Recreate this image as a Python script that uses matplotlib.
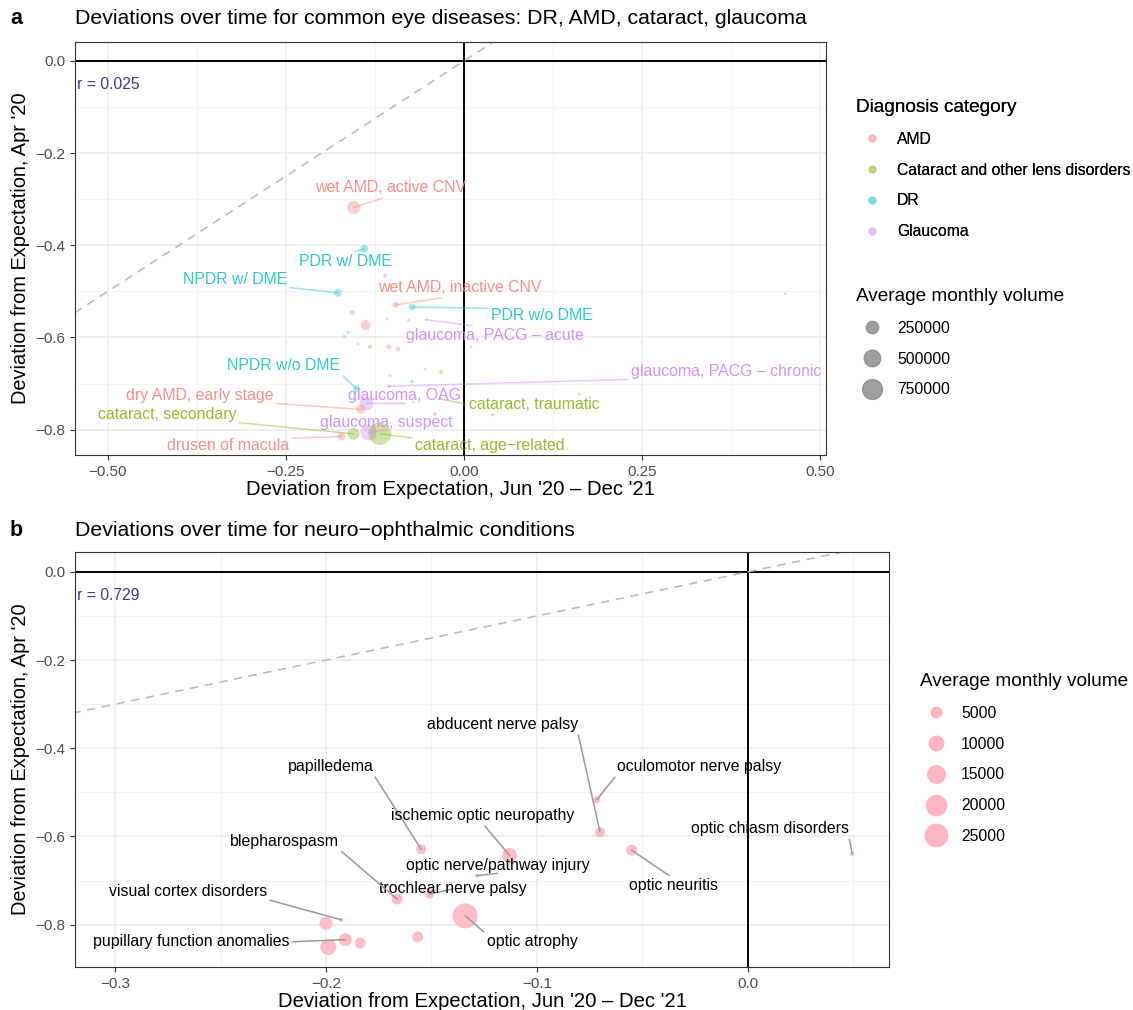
import matplotlib
matplotlib.use("Agg")
import matplotlib.pyplot as plt
from matplotlib.lines import Line2D
from matplotlib.text import Text
import numpy as np

plt.rcParams['font.family'] = ['Liberation Sans', 'DejaVu Sans']

# ---------------- panel a data ----------------
names_a = ["wet AMD, active CNV", "PDR w/ DME", "NPDR w/ DME", "", "wet AMD, inactive CNV",
           "PDR w/o DME", "", "", "", "glaucoma, PACG \u2013 acute", "", "", "", "", "",
           "", "", "", "", "", "", "", "glaucoma, PACG \u2013 chronic", "NPDR w/o DME",
           "glaucoma, OAG", "dry AMD, early stage", "", "", "", "", "", "cataract, traumatic",
           "drusen of macula", "cataract, secondary", "glaucoma, suspect", "cataract, age\u2212related"]
cat_a = ["AMD", "DR", "DR", "AMD", "AMD",
         "DR", "Glaucoma", "Glaucoma", "Glaucoma", "Glaucoma", "AMD", "DR", "Glaucoma", "Glaucoma", "Cataract",
         "AMD", "AMD", "Glaucoma", "Glaucoma", "Glaucoma", "Cataract", "DR", "Glaucoma", "DR",
         "Glaucoma", "AMD", "AMD", "Cataract", "DR", "DR", "Glaucoma", "Cataract",
         "AMD", "Cataract", "Glaucoma", "Cataract"]
x_a = [-0.155, -0.140, -0.177, -0.111, -0.096,
       -0.073, -0.157, -0.108, -0.078, -0.053, -0.138, -0.163, -0.168, -0.149, -0.132,
       -0.106, -0.093, 0.010, -0.104, -0.055, -0.032, -0.073, -0.106, -0.151,
       -0.137, -0.145, -0.041, 0.162, 0.040, 0.451, -0.071, -0.034,
       -0.172, -0.155, -0.134, -0.118]
y_a = [-0.318, -0.408, -0.503, -0.466, -0.529,
       -0.534, -0.546, -0.560, -0.563, -0.562, -0.573, -0.589, -0.598, -0.614, -0.620,
       -0.620, -0.625, -0.620, -0.683, -0.669, -0.675, -0.696, -0.706, -0.711,
       -0.743, -0.756, -0.766, -0.723, -0.768, -0.505, -0.740, -0.733,
       -0.815, -0.809, -0.806, -0.809]
vol_a = [262000, 73000, 73000, 6000, 30000,
         49000, 16000, 2000, 2000, 1000, 134000, 2000, 4000, 2000, 4000,
         16000, 16000, 1000, 2000, 1000, 6000, 4000, 4000, 49000,
         314000, 101000, 6000, 1000, 2000, 1000, 1000, 1000,
         73000, 215000, 433000, 950000]

# label anchor (data coords) for the repelled labels
lab_a = {
    "wet AMD, active CNV": (-0.1025, -0.2755),
    "PDR w/ DME": (-0.167, -0.436),
    "NPDR w/ DME": (-0.3216, -0.475),
    "wet AMD, inactive CNV": (-0.0056, -0.492),
    "PDR w/o DME": (0.1096, -0.553),
    "glaucoma, PACG \u2013 acute": (0.0435, -0.5965),
    "NPDR w/o DME": (-0.2528, -0.6616),
    "glaucoma, PACG \u2013 chronic": (0.368, -0.6746),
    "dry AMD, early stage": (-0.3708, -0.7267),
    "glaucoma, OAG": (-0.0829, -0.7267),
    "cataract, secondary": (-0.417, -0.768),
    "cataract, traumatic": (0.0983, -0.746),
    "glaucoma, suspect": (-0.1096, -0.785),
    "drusen of macula": (-0.331, -0.835),
    "cataract, age\u2212related": (0.0365, -0.835),
}

cat_order = ["AMD", "Cataract", "DR", "Glaucoma"]
cat_labels = ["AMD", "Cataract and other lens disorders", "DR", "Glaucoma"]
cat_colors = {"AMD": "#F8766D", "Cataract": "#7CAE00", "DR": "#00BFC4", "Glaucoma": "#C77CFF"}

# ---------------- panel b data ----------------
names_b = ["papilledema", "optic nerve/pathway injury", "trochlear nerve palsy", "blepharospasm",
           "visual cortex disorders", "", "pupillary function anomalies", "", "", "",
           "optic atrophy", "ischemic optic neuropathy", "abducent nerve palsy",
           "oculomotor nerve palsy", "optic neuritis", "optic chiasm disorders"]
x_b = [-0.1549, -0.1283, -0.1509, -0.1663, -0.1928, -0.2000, -0.1909, -0.1838, -0.1989, -0.1565,
       -0.1340, -0.1130, -0.0701, -0.0717, -0.0551, 0.0495]
y_b = [-0.629, -0.689, -0.731, -0.742, -0.789, -0.797, -0.834, -0.842, -0.851, -0.828,
       -0.780, -0.643, -0.590, -0.517, -0.631, -0.640]
vol_b = [3300, 600, 2500, 4100, 600, 6200, 6200, 4100, 10100, 4100,
         28000, 8700, 3300, 1400, 4100, 600]

lab_b = {
    "abducent nerve palsy": (-0.1165, -0.347),
    "oculomotor nerve palsy": (-0.0230, -0.442),
    "papilledema": (-0.1979, -0.442),
    "ischemic optic neuropathy": (-0.1258, -0.553),
    "optic chiasm disorders": (0.0104, -0.583),
    "blepharospasm": (-0.2197, -0.612),
    "optic nerve/pathway injury": (-0.1187, -0.6667),
    "optic neuritis": (-0.0354, -0.712),
    "trochlear nerve palsy": (-0.140, -0.719),
    "visual cortex disorders": (-0.2655, -0.7256),
    "pupillary function anomalies": (-0.2639, -0.839),
    "optic atrophy": (-0.1023, -0.839),
}

r_a = "r = 0.025"
r_b = "r = 0.729"
size_breaks_a = [250000, 500000, 750000]
size_breaks_b = [5000, 10000, 15000, 20000, 25000]

DPI = 100
PX2PT = 72 / DPI
LAB_FS = 11.4


def size_px(v, vmin, vmax, dmin, dmax):
    # ggplot style area scale: diameter grows with sqrt of rescaled value
    r = np.clip((np.asarray(v, float) - vmin) / (vmax - vmin), 0, 1)
    return dmin + (dmax - dmin) * np.sqrt(r)


def diam_a(v):
    return size_px(v, 1000, 950000, 2.5, 22.5)


def diam_b(v):
    return size_px(v, 500, 28000, 3.0, 25.0)


def style_axes(ax, xmajor, xminor, ymajor, yminor):
    ax.set_xticks(xmajor)
    ax.set_xticks(xminor, minor=True)
    ax.set_yticks(ymajor)
    ax.set_yticks(yminor, minor=True)
    ax.grid(True, which="major", color="#EBEBEB", lw=1.1, zorder=0)
    ax.grid(True, which="minor", color="#F2F2F2", lw=0.6, zorder=0)
    ax.set_axisbelow(True)
    for s in ax.spines.values():
        s.set_color("#333333")
        s.set_linewidth(0.8)
    ax.tick_params(which="major", length=3.5, color="#333333", labelsize=11, labelcolor="#4D4D4D")
    ax.tick_params(which="minor", length=0)
    ax.axhline(0, color="black", lw=1.4, zorder=1)
    ax.axvline(0, color="black", lw=1.4, zorder=1)
    lo = min(ax.get_xlim()[0], ax.get_ylim()[0]) - 1
    hi = max(ax.get_xlim()[1], ax.get_ylim()[1]) + 1
    ax.plot([lo, hi], [lo, hi], ls=(0, (5, 4)), color="#BBBBBB", lw=1.2, zorder=1)
    ax.set_xlabel("Deviation from Expectation, Jun '20 \u2013 Dec '21", fontsize=14.6, labelpad=1)
    ax.set_ylabel("Deviation from Expectation, Apr '20", fontsize=14.4, labelpad=4)


def add_labels(ax, names, xs, ys, pos, colors, text_alpha, seg_color_fn, seg_alpha):
    anns = []
    for nm, c, px, py in zip(names, colors, xs, ys):
        if not nm:
            continue
        tx, ty = pos[nm]
        a = ax.annotate(nm, xy=(px, py), xytext=(tx, ty), ha="center", va="center",
                        fontsize=LAB_FS, color=c, alpha=text_alpha, zorder=4,
                        arrowprops=dict(arrowstyle="-", color=seg_color_fn(c), alpha=seg_alpha,
                                        lw=1.1, shrinkA=0, shrinkB=0))
        anns.append((a, px, py))
    return anns


def fix_segments(fig, ax, anns):
    # leader line leaves the label box at a corner or edge middle, like ggrepel
    fig.canvas.draw()
    r = fig.canvas.get_renderer()
    for a, px, py in anns:
        bb = Text.get_window_extent(a, r)   # text only, without the arrow
        qx, qy = ax.transData.transform((px, py))
        rx = 0.0 if qx < bb.x0 else (1.0 if qx > bb.x1 else 0.5)
        ry = 0.0 if qy < bb.y0 else (1.0 if qy > bb.y1 else 0.5)
        a._arrow_relpos = (rx, ry)


fig = plt.figure(figsize=(1133 / DPI, 1010 / DPI), dpi=DPI)

# ================= panel a =================
ax1 = fig.add_axes([75 / 1133, 1 - 455 / 1010, (826 - 75) / 1133, (455 - 42) / 1010])
ax1.set_xlim(-0.546, 0.508)
ax1.set_ylim(-0.855, 0.041)
style_axes(ax1, [-0.5, -0.25, 0, 0.25, 0.5], [-0.375, -0.125, 0.125, 0.375],
           [0, -0.2, -0.4, -0.6, -0.8], [-0.1, -0.3, -0.5, -0.7])
ax1.set_xticklabels(["\u22120.50", "\u22120.25", "0.00", "0.25", "0.50"])
ax1.set_yticklabels(["0.0", "\u22120.2", "\u22120.4", "\u22120.6", "\u22120.8"])

cols_a = [cat_colors[c] for c in cat_a]
ax1.scatter(x_a, y_a, s=(diam_a(vol_a) * PX2PT) ** 2, c=cols_a, alpha=0.35, lw=0, zorder=3)
anns_a = add_labels(ax1, names_a, x_a, y_a, lab_a, cols_a, 0.82, lambda c: c, 0.4)
ax1.text(0.003, 0.898, r_a, transform=ax1.transAxes, fontsize=11.3, color="#44339A",
         ha="left", va="center")

fig.text(10 / 1133, 1 - 18 / 1010, "a", fontsize=15.5, fontweight="bold", va="center")
fig.text(75 / 1133, 1 - 18 / 1010, "Deviations over time for common eye diseases: DR, AMD, cataract, glaucoma",
         fontsize=15.3, va="center")

leg_kw = dict(loc="upper left", frameon=False, fontsize=11.3, title_fontsize=13.7, alignment="left",
              labelspacing=1.0, handletextpad=0.6, borderaxespad=0, handlelength=2.0)
h_cat = [Line2D([], [], ls="", marker="o", ms=6, mew=0, color=cat_colors[c], alpha=0.3) for c in cat_order]
leg1 = fig.legend(h_cat, cat_labels, title="Diagnosis category",
                  bbox_to_anchor=(850 / 1133, 1 - 93 / 1010), **leg_kw)
h_sz = [Line2D([], [], ls="", marker="o", ms=float(diam_a(v)) * PX2PT, mew=0.8, color="black",
               markeredgecolor="#444444", alpha=0.38) for v in size_breaks_a]
fig.legend(h_sz, [str(v) for v in size_breaks_a], title="Average monthly volume",
           bbox_to_anchor=(850 / 1133, 1 - 282 / 1010), **leg_kw)
fig.add_artist(leg1)

# ================= panel b =================
ax2 = fig.add_axes([75 / 1133, 1 - 967 / 1010, (889 - 75) / 1133, (967 - 552) / 1010])
ax2.set_xlim(-0.319, 0.0669)
ax2.set_ylim(-0.896, 0.045)
style_axes(ax2, [-0.3, -0.2, -0.1, 0.0], [-0.25, -0.15, -0.05, 0.05],
           [0, -0.2, -0.4, -0.6, -0.8], [-0.1, -0.3, -0.5, -0.7])
ax2.set_xticklabels(["\u22120.3", "\u22120.2", "\u22120.1", "0.0"])
ax2.set_yticklabels(["0.0", "\u22120.2", "\u22120.4", "\u22120.6", "\u22120.8"])

ax2.scatter(x_b, y_b, s=(diam_b(vol_b) * PX2PT) ** 2, c="#FFB6C1", alpha=0.9, lw=0, zorder=3)
anns_b = add_labels(ax2, names_b, x_b, y_b, lab_b, ["black"] * len(names_b), 1.0,
                    lambda c: "#999999", 1.0)
ax2.text(0.003, 0.896, r_b, transform=ax2.transAxes, fontsize=11.3, color="#44339A",
         ha="left", va="center")

fig.text(10 / 1133, 1 - 531 / 1010, "b", fontsize=15.5, fontweight="bold", va="center")
fig.text(75 / 1133, 1 - 531 / 1010, "Deviations over time for neuro\u2212ophthalmic conditions",
         fontsize=15.3, va="center")

h_b = [Line2D([], [], ls="", marker="o", ms=float(diam_b(v)) * PX2PT, mew=0, color="#FFB6C1")
       for v in size_breaks_b]
fig.legend(h_b, [str(v) for v in size_breaks_b], title="Average monthly volume",
           bbox_to_anchor=(914 / 1133, 1 - 667 / 1010), **leg_kw)

fix_segments(fig, ax1, anns_a)
fix_segments(fig, ax2, anns_b)

fig.savefig("out.png", dpi=DPI)
